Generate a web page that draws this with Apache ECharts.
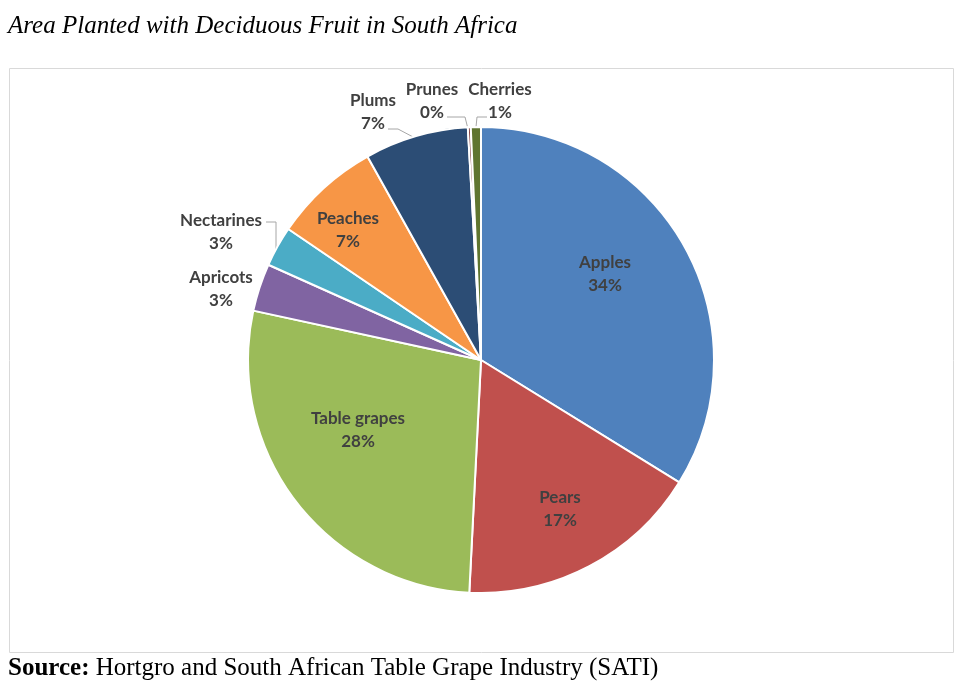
<!DOCTYPE html>
<html>
<head>
<meta charset="utf-8">
<script src="https://cdn.jsdelivr.net/npm/echarts@6/dist/echarts.min.js"></script>
<style>
  html, body { margin: 0; padding: 0; background: #fff; }
  #chart { width: 961px; height: 681px; }
</style>
</head>
<body>
<div id="chart"></div>
<script>
const fruits = ['Apples', 'Pears', 'Table grapes', 'Apricots', 'Nectarines', 'Peaches', 'Plums', 'Prunes', 'Cherries']
const areaShare = [33.8, 17.0, 27.6, 3.3, 2.8, 7.4, 7.2, 0.2, 0.7]
const sliceColors = ['#4F81BD', '#C0504D', '#9BBB59', '#8064A2', '#4BACC6', '#F79646', '#2C4D75', '#772C2A', '#5F7530']

// where Excel put each label (block centre) and its leader line, if any
const labelAt = {
  'Apples': [605, 274], 'Pears': [560, 509], 'Table grapes': [358, 430],
  'Apricots': [221, 289], 'Nectarines': [221, 232], 'Peaches': [348, 230],
  'Plums': [373, 112], 'Prunes': [432, 101], 'Cherries': [500, 101]
}
const leaders = {
  'Nectarines': [[276, 249], [276, 222], [266, 222]],
  'Plums': [[415, 138], [398, 129], [388, 129]],
  'Prunes': [[468, 129], [465, 117], [447, 117]],
  'Cherries': [[476, 127], [477, 117], [487, 117]]
}

const chart = echarts.init(document.getElementById('chart'))

chart.setOption({
  animation: false,
  title: [{
    text: 'Area Planted with Deciduous Fruit in South Africa',
    left: 3, top: 9,
    textStyle: { fontFamily: 'Liberation Serif', fontStyle: 'italic', fontWeight: 'normal', fontSize: 25, color: '#000' }
  }, {
    text: '{b|Source:} Hortgro and South African Table Grape Industry (SATI)',
    left: 3, top: 651,
    textStyle: {
      fontFamily: 'Liberation Serif', fontWeight: 'normal', fontSize: 25, color: '#000',
      rich: { b: { fontFamily: 'Liberation Serif', fontWeight: 'bold', fontSize: 25, color: '#000' } }
    }
  }],
  graphic: [{
    type: 'rect', silent: true,
    shape: { x: 9.5, y: 68.5, width: 944, height: 584 },
    style: { fill: 'none', stroke: '#d9d9d9', lineWidth: 1 }
  }],
  series: [{
    type: 'pie',
    center: [481, 360],
    radius: [0, 233],
    startAngle: 90,
    clockwise: true,
    percentPrecision: 0,
    avoidLabelOverlap: false,
    itemStyle: { borderColor: '#fff', borderWidth: 2 },
    label: {
      show: true, position: 'outside',
      formatter: '{b}\n{d}%',
      fontFamily: 'Lato', fontWeight: 'bold', fontSize: 17, lineHeight: 23,
      color: '#404040', align: 'center'
    },
    labelLine: { show: true, lineStyle: { color: '#a6a6a6', width: 1 } },
    labelLayout: (p) => {
      const name = fruits[p.dataIndex]
      const pos = labelAt[name]
      const out = { x: pos[0], y: pos[1], align: 'center', verticalAlign: 'middle' }
      out.labelLinePoints = leaders[name] || [[pos[0], pos[1]], [pos[0], pos[1]], [pos[0], pos[1]]]
      return out
    },
    data: fruits.map((name, i) => ({
      name, value: areaShare[i],
      itemStyle: { color: sliceColors[i] },
      labelLine: { show: !!leaders[name] }
    }))
  }]
})
</script>
</body>
</html>
